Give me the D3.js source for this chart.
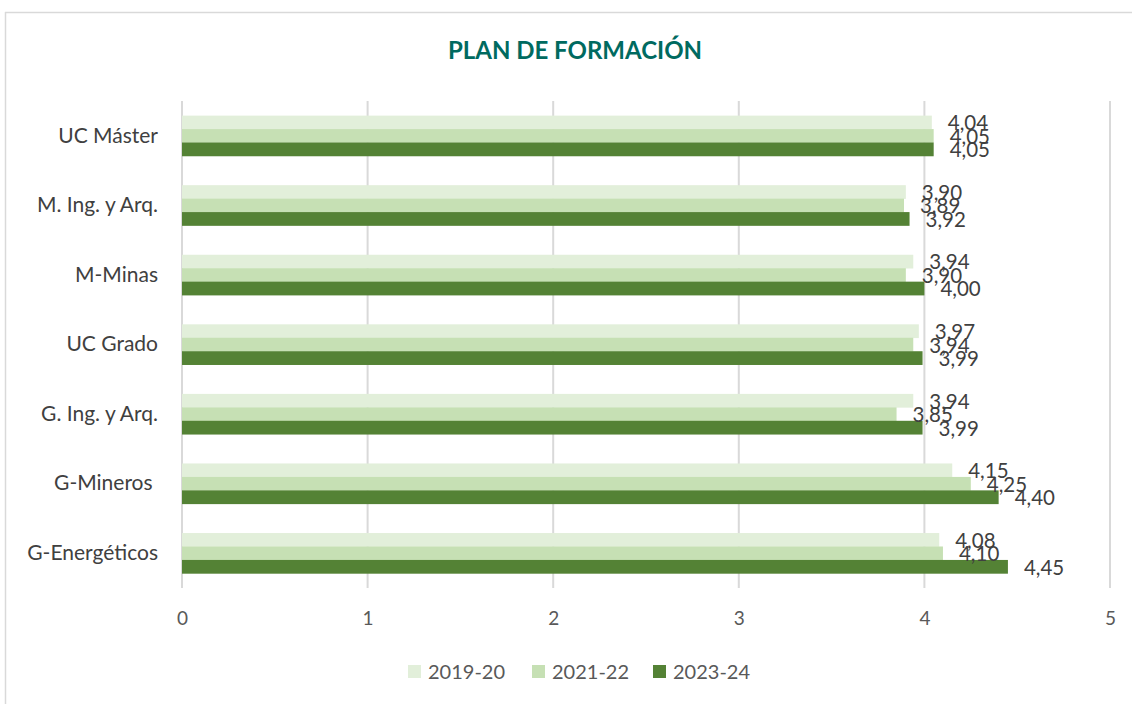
<!DOCTYPE html>
<html>
<head>
<meta charset="utf-8">
<script src="https://cdn.jsdelivr.net/npm/d3@7"></script>
<style>
  html, body { margin: 0; padding: 0; background: #fff; }
  svg { display: block; }
  text { font-family: Lato, "Open Sans", sans-serif; }
</style>
</head>
<body>
<svg id="chart" width="1132" height="704"></svg>
<script>
// Satisfaction with the training plan, by degree group and academic year
const categories = ["UC Máster", "M. Ing. y Arq.", "M-Minas", "UC Grado", "G. Ing. y Arq.", "G-Mineros ", "G-Energéticos"];
const seriesNames = ["2019-20", "2021-22", "2023-24"];
const values2019 = [4.04, 3.90, 3.94, 3.97, 3.94, 4.15, 4.08];
const values2021 = [4.05, 3.89, 3.90, 3.94, 3.85, 4.25, 4.10];
const values2023 = [4.05, 3.92, 4.00, 3.99, 3.99, 4.40, 4.45];
const xTicks = [0, 1, 2, 3, 4, 5];
const colors = ["#e2efda", "#c6e0b4", "#548235"];

const seriesValues = [values2019, values2021, values2023];

const svg = d3.select("#chart");
const W = 1132, H = 704;

// outer frame (only top and left edges visible)
svg.append("line").attr("x1", 5).attr("x2", W).attr("y1", 12.5).attr("y2", 12.5)
  .attr("stroke", "#d9d9d9").attr("stroke-width", 1.5);
svg.append("line").attr("x1", 5.5).attr("x2", 5.5).attr("y1", 12).attr("y2", H)
  .attr("stroke", "#d9d9d9").attr("stroke-width", 1.5);

// title
svg.append("text")
  .attr("x", 575).attr("y", 59)
  .attr("text-anchor", "middle")
  .attr("font-size", 24).attr("font-weight", 700)
  .attr("fill", "#006a60")
  .text("PLAN DE FORMACIÓN");

const plot = { left: 182, right: 1110, top: 101, bottom: 588 };

const x = d3.scaleLinear().domain([0, 5]).range([plot.left, plot.right]);
const y = d3.scaleBand().domain(categories).range([plot.top, plot.bottom]).paddingInner(0.42).paddingOuter(0.21);
const ySub = d3.scaleBand().domain(seriesNames).range([0, y.bandwidth()]);

// vertical gridlines
svg.append("g").selectAll("line").data(xTicks).join("line")
  .attr("x1", d => x(d)).attr("x2", d => x(d))
  .attr("y1", plot.top).attr("y2", plot.bottom)
  .attr("stroke", "#d9d9d9").attr("stroke-width", 2);

// x axis tick labels
const xAxis = d3.axisBottom(x).tickValues(xTicks).tickSize(0).tickPadding(0).tickFormat(d3.format("d"));
const gx = svg.append("g").attr("transform", `translate(0,${plot.bottom + 37})`).call(xAxis);
gx.select(".domain").remove();
gx.selectAll("text").attr("font-size", 19).attr("fill", "#595959")
  .attr("font-family", "Lato, 'Open Sans', sans-serif").attr("dy", "0");

// category labels
const yAxis = d3.axisLeft(y).tickSize(0).tickPadding(0);
const gy = svg.append("g").attr("transform", `translate(${plot.left - 24},0)`).call(yAxis);
gy.select(".domain").remove();
gy.selectAll("text").attr("font-size", 21).attr("fill", "#404040")
  .attr("font-family", "Lato, 'Open Sans', sans-serif")
  .style("white-space", "pre");

// bars
const fmt = v => d3.format(".2f")(v).replace(".", ",");
seriesNames.forEach((s, si) => {
  const g = svg.append("g");
  g.selectAll("rect").data(categories).join("rect")
    .attr("x", x(0))
    .attr("y", (c) => y(c) + ySub(s))
    .attr("width", (c, i) => x(seriesValues[si][i]) - x(0))
    .attr("height", ySub.bandwidth() + 0.3)
    .attr("fill", colors[si]);
});

// value labels, drawn after all bars so they sit on top
seriesNames.forEach((s, si) => {
  svg.append("g").selectAll("text").data(categories).join("text")
    .attr("x", (c, i) => x(seriesValues[si][i]) + 16)
    .attr("y", (c) => y(c) + ySub(s) + ySub.bandwidth() / 2 + 8)
    .attr("font-size", 20.5).attr("fill", "#404040")
    .text((c, i) => fmt(seriesValues[si][i]));
});

// legend
const legendX = [408, 532, 653];
const lg = svg.append("g");
seriesNames.forEach((s, i) => {
  lg.append("rect").attr("x", legendX[i]).attr("y", 665).attr("width", 13).attr("height", 13).attr("fill", colors[i]);
  lg.append("text").attr("x", legendX[i] + 20).attr("y", 679)
    .attr("font-size", 20).attr("fill", "#595959").text(s);
});
</script>
</body>
</html>
